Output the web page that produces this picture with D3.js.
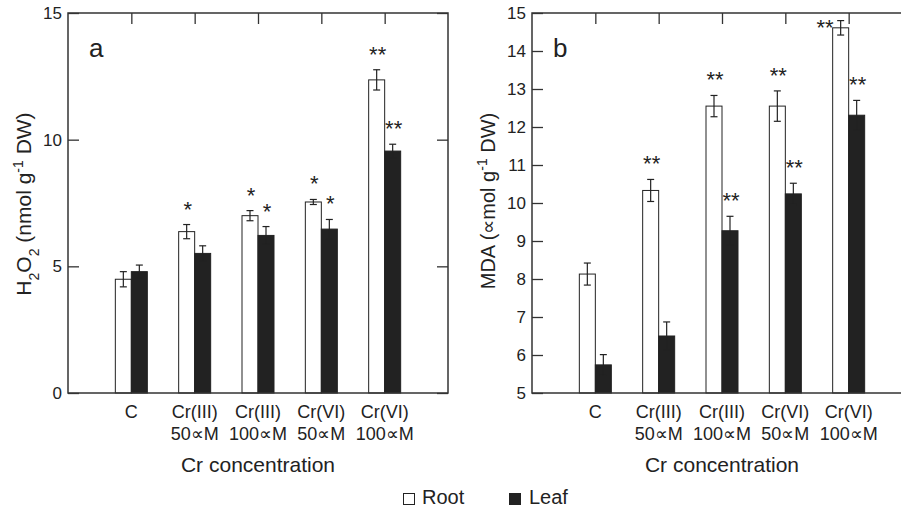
<!DOCTYPE html>
<html>
<head>
<meta charset="utf-8">
<script src="https://cdn.jsdelivr.net/npm/d3@7"></script>
<style>
  body { margin: 0; background: #fff; }
  text { font-family: "Liberation Sans", Arial, sans-serif; fill: #222; }
</style>
</head>
<body>
<div id="chart"></div>
<script>
// categories (two lines each)
var catLine1 = ["C", "Cr(III)", "Cr(III)", "Cr(VI)", "Cr(VI)"];
var catLine2 = ["", "50∝M", "100∝M", "50∝M", "100∝M"];

// panel a: H2O2
var h2o2Root = [4.49, 6.37, 7.0, 7.54, 12.36];
var h2o2RootErr = [0.3, 0.28, 0.2, 0.1, 0.4];
var h2o2Leaf = [4.79, 5.51, 6.22, 6.47, 9.55];
var h2o2LeafErr = [0.26, 0.3, 0.35, 0.38, 0.27];
var h2o2RootSig = ["", "*", "*", "*", "**"];
var h2o2LeafSig = ["", "", "*", "*", "**"];
var h2o2Ticks = [0, 5, 10, 15];

// panel b: MDA
var mdaRoot = [8.13, 10.33, 12.55, 12.55, 14.61];
var mdaRootErr = [0.29, 0.29, 0.28, 0.4, 0.19];
var mdaLeaf = [5.74, 6.5, 9.27, 10.24, 12.31];
var mdaLeafErr = [0.27, 0.37, 0.38, 0.28, 0.39];
var mdaRootSig = ["", "**", "**", "**", "**"];
var mdaLeafSig = ["", "", "**", "**", "**"];
var mdaTicks = [5, 6, 7, 8, 9, 10, 11, 12, 13, 14, 15];

var svgWidth = 901;
var svgHeight = 508;
var width = 380;
var height = 380;
var ink = "#222";

var svg = d3.select("#chart")
    .append("svg")
    .attr("width", svgWidth)
    .attr("height", svgHeight);

function drawPanel(opts) {
    var g = svg.append("g")
        .attr("transform", `translate(${opts.left}, ${opts.top})`);

    var x = d3.scalePoint()
        .domain(d3.range(catLine1.length))
        .range([0, width])
        .padding(1);

    var inner = d3.scaleBand()
        .domain(["root", "leaf"])
        .range([-16, 16]);

    var y = d3.scaleLinear()
        .domain(opts.domain)
        .range([height, 0]);

    var rows = catLine1.map(function(c, i) {
        return [
            {i: i, s: "root", v: opts.root[i], e: opts.rootErr[i], sig: opts.rootSig[i]},
            {i: i, s: "leaf", v: opts.leaf[i], e: opts.leafErr[i], sig: opts.leafSig[i]}
        ];
    });
    var bars = [].concat.apply([], rows);

    // bars
    g.selectAll("rect.bar")
        .data(bars)
        .enter()
        .append("rect")
        .attr("class", "bar")
        .attr("x", d => x(d.i) + inner(d.s))
        .attr("y", d => y(d.v))
        .attr("width", inner.bandwidth())
        .attr("height", d => height - y(d.v))
        .attr("fill", d => d.s == "root" ? "#fff" : ink)
        .attr("stroke", ink)
        .attr("stroke-width", 1);

    // error bars
    var eb = g.selectAll("g.err")
        .data(bars)
        .enter()
        .append("g")
        .attr("stroke", ink)
        .attr("stroke-width", 1.2);
    var cx = d => x(d.i) + inner(d.s) + inner.bandwidth() / 2;
    eb.append("line")
        .attr("x1", cx).attr("x2", cx)
        .attr("y1", d => y(d.v - d.e)).attr("y2", d => y(d.v + d.e));
    eb.append("line")
        .attr("x1", d => cx(d) - 3.5).attr("x2", d => cx(d) + 3.5)
        .attr("y1", d => y(d.v + d.e)).attr("y2", d => y(d.v + d.e));
    eb.append("line")
        .attr("x1", d => cx(d) - 3.5).attr("x2", d => cx(d) + 3.5)
        .attr("y1", d => y(d.v - d.e)).attr("y2", d => y(d.v - d.e));

    // significance stars (moved beside the bar when there is no room above)
    var tight = d => y(d.v + d.e) < 30;
    g.selectAll("text.sig")
        .data(bars.filter(d => d.sig))
        .enter()
        .append("text")
        .attr("class", "sig")
        .style("font-size", "22px")
        .attr("text-anchor", d => tight(d) ? "end" : "middle")
        .attr("x", d => tight(d) ? x(d.i) + inner(d.s) + 1 : cx(d) + 1)
        .attr("y", d => tight(d) ? y(d.v + d.e) + 14 : y(d.v + d.e) - 8)
        .text(d => d.sig);

    // frame
    g.append("rect")
        .attr("width", width)
        .attr("height", height)
        .attr("fill", "none")
        .attr("stroke", "#333")
        .attr("stroke-width", 1.5);

    // left axis, inward ticks
    var leftAxis = d3.axisRight(y).tickValues(opts.ticks).tickSize(11).tickFormat("");
    g.append("g").call(leftAxis).call(a => a.select(".domain").remove())
        .selectAll("line").attr("stroke", "#333").attr("stroke-width", 1.3);
    g.selectAll("text.ytick")
        .data(opts.ticks)
        .enter()
        .append("text")
        .attr("class", "ytick")
        .attr("x", -6)
        .attr("y", d => y(d))
        .attr("dy", "0.35em")
        .attr("text-anchor", "end")
        .style("font-size", "17px")
        .text(d => d);

    // right axis, inward ticks
    var rightAxis = d3.axisLeft(y).tickValues(opts.ticks).tickSize(11).tickFormat("");
    g.append("g").attr("transform", `translate(${width}, 0)`)
        .call(rightAxis).call(a => a.select(".domain").remove())
        .selectAll("line").attr("stroke", "#333").attr("stroke-width", 1.3);

    // top ticks at group centres
    var topAxis = d3.axisBottom(x).tickSize(11).tickFormat("");
    g.append("g").call(topAxis).call(a => a.select(".domain").remove())
        .selectAll("line").attr("stroke", "#333").attr("stroke-width", 1.3);

    // category labels
    var lab = g.selectAll("text.cat")
        .data(catLine1)
        .enter()
        .append("text")
        .attr("class", "cat")
        .attr("text-anchor", "middle")
        .style("font-size", "18px");
    lab.append("tspan")
        .attr("x", (d, i) => x(i))
        .attr("y", height + 25)
        .text(d => d);
    lab.append("tspan")
        .attr("x", (d, i) => x(i))
        .attr("y", height + 47)
        .text((d, i) => catLine2[i]);

    // x axis title
    g.append("text")
        .attr("x", 190)
        .attr("y", height + 79)
        .attr("text-anchor", "middle")
        .style("font-size", "21px")
        .text("Cr concentration");

    // panel letter
    g.append("text")
        .attr("x", 21)
        .attr("y", 44)
        .style("font-size", "26px")
        .text(opts.letter);

    // y axis title
    var yt = svg.append("text")
        .attr("transform", `translate(${opts.titleX}, ${opts.titleY}) rotate(-90)`)
        .attr("text-anchor", "middle")
        .style("font-size", opts.titleSize);
    opts.title.forEach(function(p) {
        var t = yt.append("tspan").text(p[0]);
        if (p[1] == "sub") t.attr("baseline-shift", "sub").style("font-size", "14px");
        if (p[1] == "sup") t.attr("baseline-shift", "super").style("font-size", "14px");
    });
}

drawPanel({
    left: 68, top: 13, letter: "a", domain: [0, 15], ticks: h2o2Ticks,
    root: h2o2Root, rootErr: h2o2RootErr, leaf: h2o2Leaf, leafErr: h2o2LeafErr,
    rootSig: h2o2RootSig, leafSig: h2o2LeafSig,
    titleX: 31, titleY: 204, titleSize: "21px",
    title: [["H"], ["2", "sub"], ["O"], ["2", "sub"], [" (nmol  g"], ["-1", "sup"], [" DW)"]]
});

drawPanel({
    left: 532, top: 13, letter: "b", domain: [5, 15], ticks: mdaTicks,
    root: mdaRoot, rootErr: mdaRootErr, leaf: mdaLeaf, leafErr: mdaLeafErr,
    rootSig: mdaRootSig, leafSig: mdaLeafSig,
    titleX: 495, titleY: 201, titleSize: "20px",
    title: [["MDA (∝mol g"], ["-1", "sup"], [" DW)"]]
});

// legend
var legend = svg.append("g");
legend.append("rect")
    .attr("x", 403.5).attr("y", 493.5).attr("width", 11).attr("height", 11)
    .attr("fill", "#fff").attr("stroke", ink).attr("stroke-width", 1);
legend.append("text")
    .attr("x", 422).attr("y", 504)
    .style("font-size", "20px")
    .text("Root");
legend.append("rect")
    .attr("x", 509).attr("y", 493).attr("width", 12).attr("height", 12)
    .attr("fill", ink);
legend.append("text")
    .attr("x", 529).attr("y", 504)
    .style("font-size", "20px")
    .text("Leaf");
</script>
</body>
</html>
